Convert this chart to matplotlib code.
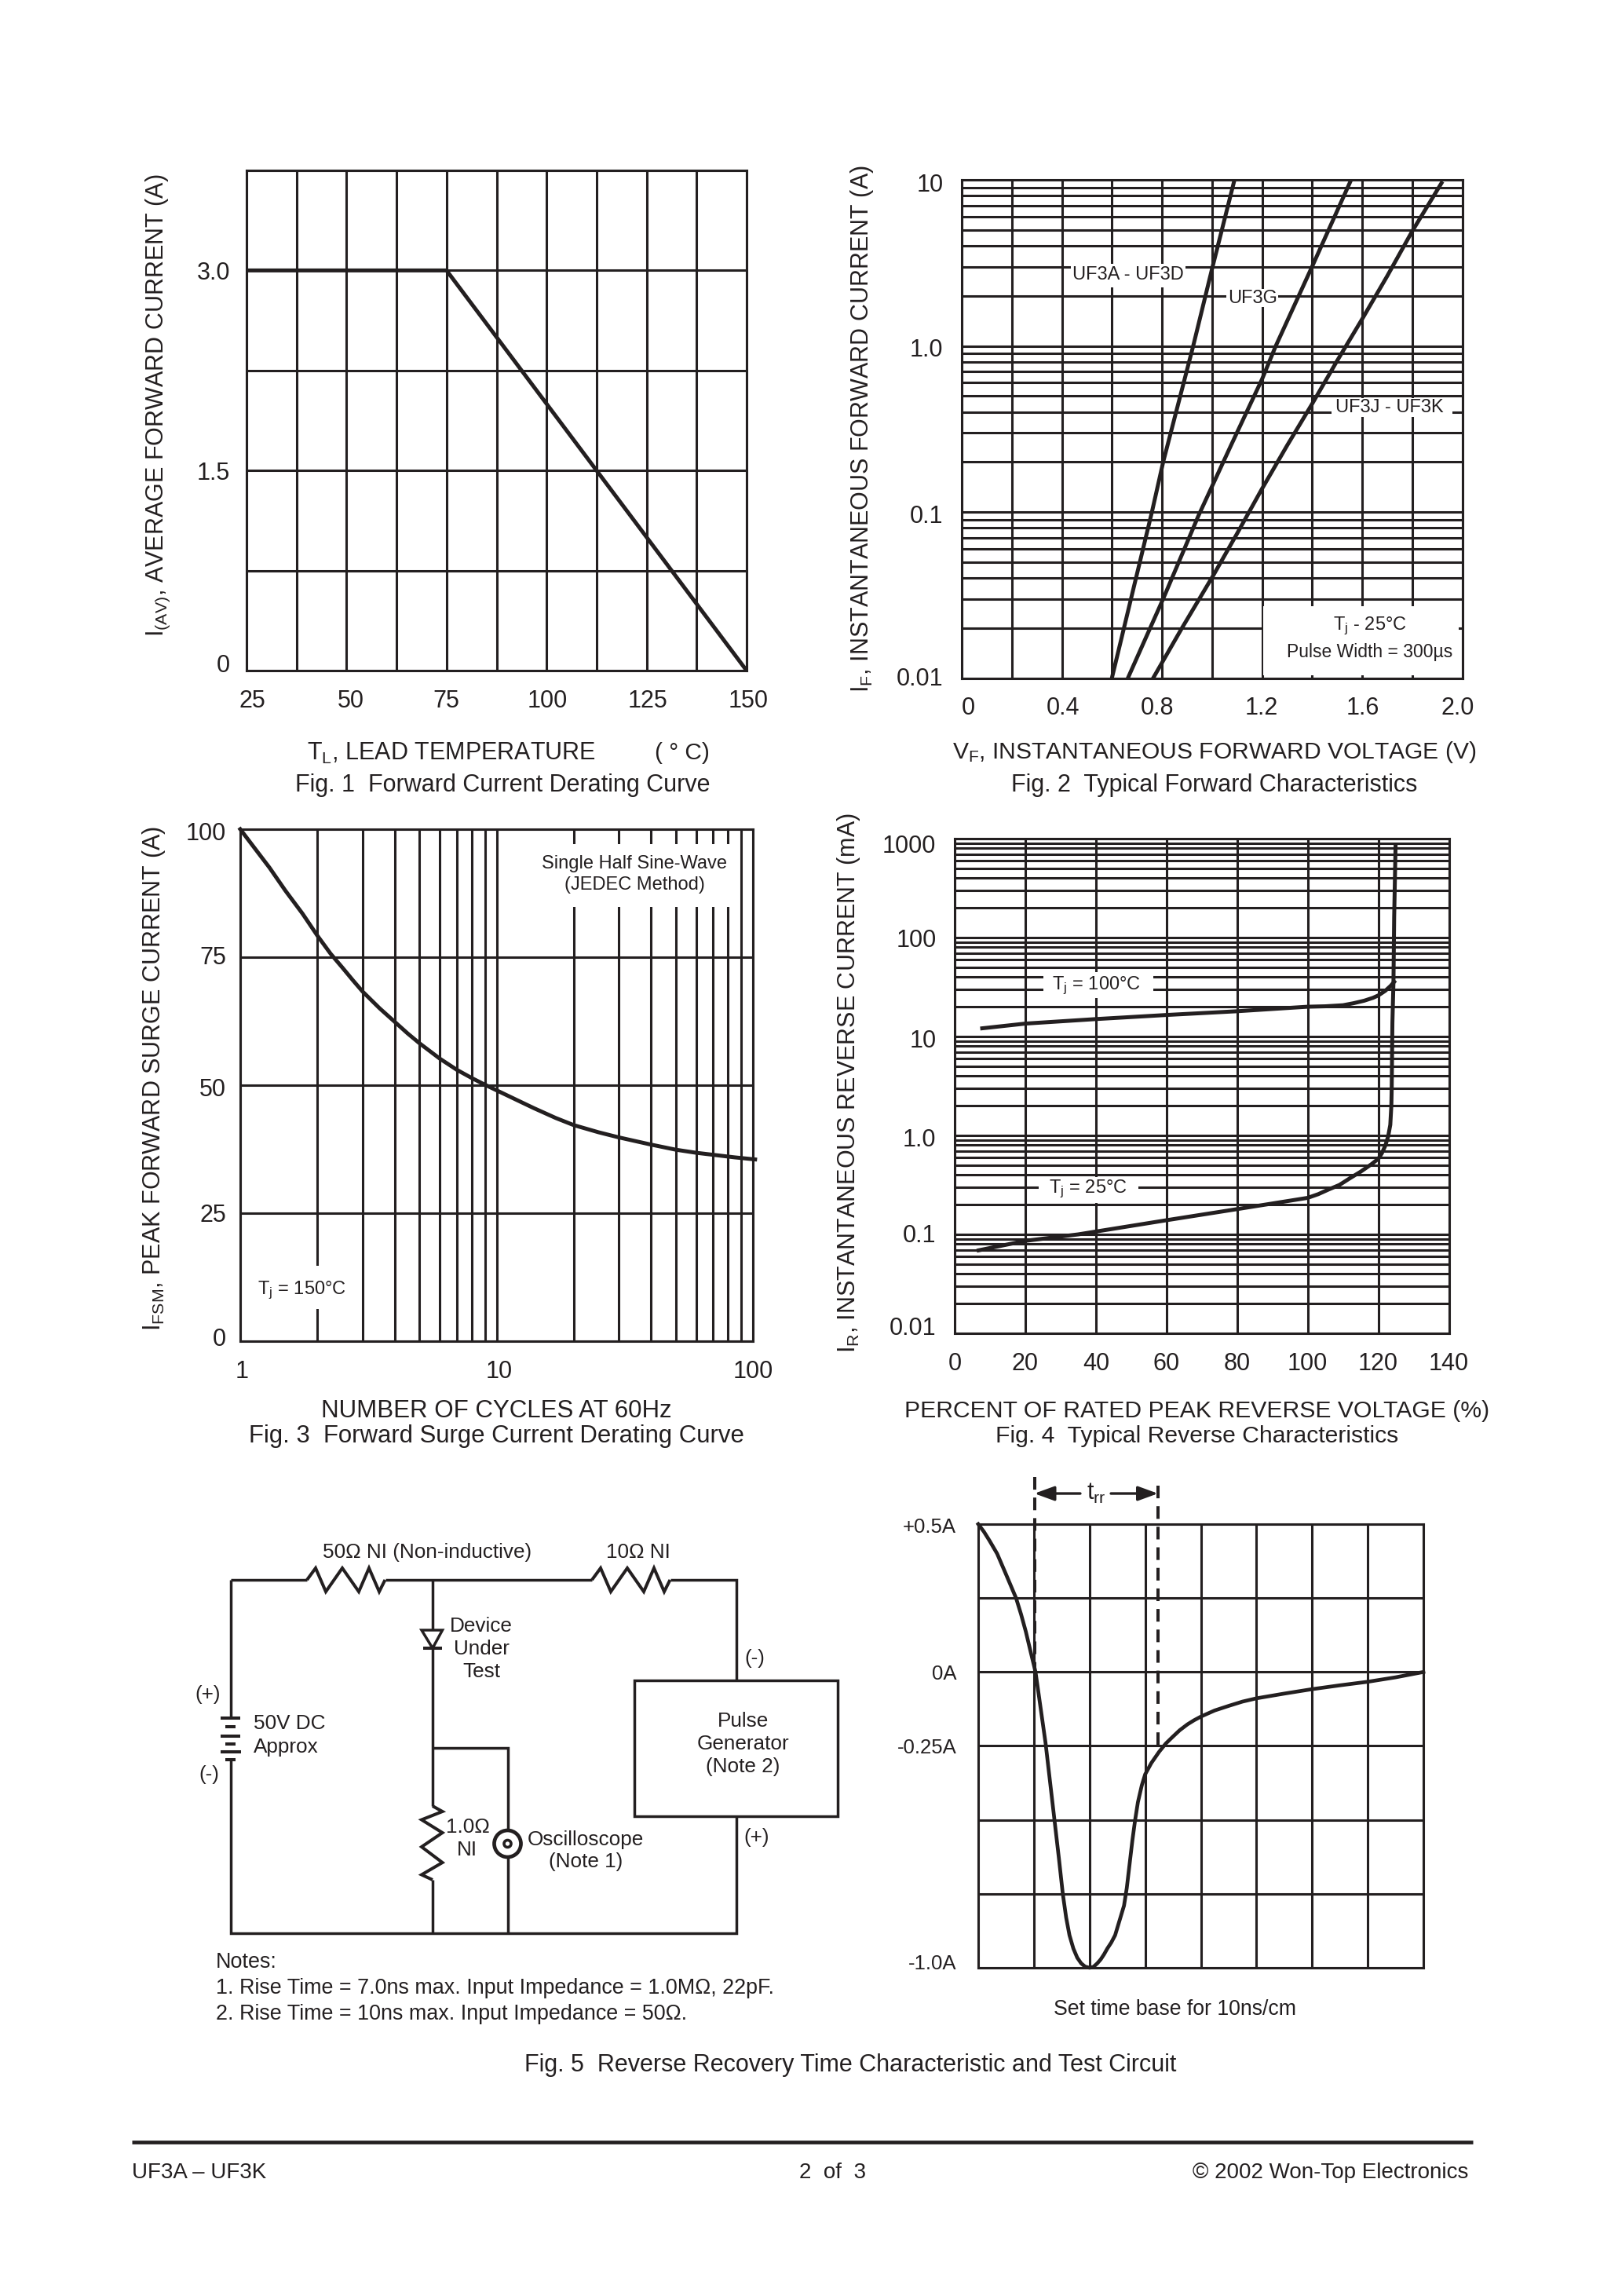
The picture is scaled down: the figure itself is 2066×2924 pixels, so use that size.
import matplotlib
matplotlib.use("Agg")
import matplotlib.pyplot as plt
from matplotlib.patches import Rectangle, Circle, Polygon
from matplotlib.ticker import NullFormatter, LogLocator, FixedLocator
from matplotlib.transforms import Affine2D

# FONTS AND COLOURS
plt.rcParams['font.family'] = ['Liberation Sans', 'DejaVu Sans']
plt.rcParams['mathtext.fontset'] = 'custom'
plt.rcParams['mathtext.rm'] = 'Liberation Sans'
plt.rcParams['mathtext.default'] = 'regular'
INK = '#231f20'
GRID_W = 2.2
CURVE_W = 3.6
FS = 22
FS_SMALL = 17
W, H = 2066, 2924

# FIG 1 DATA
temp_ticks = [25, 50, 75, 100, 125, 150]
temp_minor = [37.5, 62.5, 87.5, 112.5, 137.5]
amp_ticks = [0, 1.5, 3.0]
amp_labels = ['0', '1.5', '3.0']
amp_minor = [0.75, 2.25, 3.75]
derate_t = [25, 75, 150]
derate_i = [3.0, 3.0, 0]

# FIG 2 DATA
vf_ticks = [0, 0.4, 0.8, 1.2, 1.6, 2.0]
vf_labels = ['0', '0.4', '0.8', '1.2', '1.6', '2.0']
vf_minor = [0.2, 0.6, 1.0, 1.4, 1.8]
if_ticks = [0.01, 0.1, 1, 10]
if_labels = ['0.01', '0.1', '1.0', '10']
uf3a_v = [0.60, 0.76, 0.805, 0.925, 1.00, 1.087]
uf3a_i = [0.01, 0.1, 0.2, 1.0, 2.9, 9.6]
uf3g_v = [0.664, 0.805, 0.946, 1.075, 1.20, 1.255, 1.40, 1.556]
uf3g_i = [0.01, 0.03, 0.095, 0.25, 0.63, 1.0, 3.0, 10]
uf3j_v = [0.765, 0.88, 1.006, 1.10, 1.20, 1.30, 1.40, 1.50, 1.60, 1.70, 1.80, 1.917]
uf3j_i = [0.01, 0.02, 0.0417, 0.074, 0.138, 0.251, 0.447, 0.813, 1.45, 2.63, 4.9, 9.55]

# FIG 3 DATA
cycle_ticks = [1, 10, 100]
cycle_labels = ['1', '10', '100']
surge_ticks = [0, 25, 50, 75, 100]
cycles = [1, 1.15, 1.3, 1.5, 1.75, 2, 2.25, 2.5, 2.75, 3, 3.5, 4, 4.5, 5, 6, 7, 8, 9, 10, 12, 14, 17, 20,
          25, 30, 40, 50, 60, 70, 85, 102]
surge = [100, 96, 92.5, 88, 83.5, 79.2, 75.7, 73, 70.5, 68.3, 65, 62.4, 60.1, 58.2, 55.2, 53, 51.4, 50.1, 49,
         47.1, 45.5, 43.6, 42.2, 40.8, 39.8, 38.4, 37.4, 36.8, 36.4, 35.9, 35.5]

# FIG 4 DATA
pct_ticks = [0, 20, 40, 60, 80, 100, 120, 140]
ir_ticks = [0.01, 0.1, 1, 10, 100, 1000]
ir_labels = ['0.01', '0.1', '1.0', '10', '100', '1000']
hot_pct = [7.8, 20, 40, 60, 80, 100, 105, 110, 113, 116, 118.5, 120, 122, 123.5, 124.5]
hot_ir = [12.1, 13.5, 15, 16.5, 18, 20, 20.2, 20.7, 21.7, 23, 24.6, 26, 29, 32.5, 35.7]
cold_pct = [6.8, 20, 35, 60, 80, 100, 103, 106, 109, 112, 115, 118, 120, 121, 122, 122.8, 123.4, 123.7, 123.8,
            124, 124.3, 124.5, 124.9]
cold_ir = [0.069, 0.086, 0.1, 0.139, 0.18, 0.234, 0.255, 0.285, 0.316, 0.37, 0.43, 0.51, 0.58, 0.66, 0.79, 0.98,
           1.28, 2.0, 2.97, 13.8, 35.7, 161, 860]

# FIG 5 DATA
div_ticks = [1, 2, 3, 4, 5, 6, 7, 8]
rec_ticks = [-1.0, -0.25, 0, 0.5]
rec_labels = ['-1.0A', '-0.25A', '0A', '+0.5A']
rec_minor = [-0.75, -0.5, 0.25]
rec_t = [0, 0.1, 0.2, 0.34, 0.5, 0.68, 0.77, 0.855, 0.94, 1.03, 1.12, 1.21, 1.29, 1.37, 1.45, 1.52, 1.58, 1.64,
         1.71, 1.78, 1.85, 1.92, 2.0, 2.07, 2.14, 2.2, 2.26, 2.32, 2.39, 2.46, 2.54, 2.62, 2.67, 2.72, 2.77, 2.82,
         2.87, 2.94, 3.0, 3.11, 3.25, 3.37, 3.49, 3.62, 3.76, 3.88, 4.01, 4.25, 4.51, 4.75, 5, 5.5, 6, 6.5, 7,
         7.5, 8]
rec_i = [0.5, 0.475, 0.445, 0.40, 0.33, 0.25, 0.195, 0.137, 0.07, 0.0, -0.12, -0.24, -0.37, -0.5, -0.63, -0.75,
         -0.83, -0.89, -0.935, -0.966, -0.985, -0.996, -1.0, -0.997, -0.985, -0.972, -0.955, -0.935, -0.915, -0.89,
         -0.84, -0.79, -0.73, -0.65, -0.57, -0.5, -0.44, -0.383, -0.346, -0.308, -0.27, -0.242, -0.22, -0.197,
         -0.177, -0.163, -0.15, -0.13, -0.114, -0.1, -0.089, -0.073, -0.058, -0.045, -0.033, -0.018, 0.0]

fig = plt.figure(figsize=(W / 100, H / 100), dpi=100, facecolor='white')

# OVERLAY IN PAGE PIXELS FOR CAPTIONS AND THE CIRCUIT
page = fig.add_axes([0, 0, 1, 1], zorder=5)
page.set_xlim(0, W)
page.set_ylim(H, 0)
page.axis('off')
page.patch.set_alpha(0)


def make_axes(left, right, top, bottom):
    ax = fig.add_axes([left / W, 1 - bottom / H, (right - left) / W, (bottom - top) / H])
    ax.set_axisbelow(True)
    for s in ax.spines.values():
        s.set_linewidth(GRID_W)
        s.set_color(INK)
    ax.grid(True, which='both', color=INK, linewidth=GRID_W)
    ax.tick_params(which='both', length=0, labelsize=FS, labelcolor=INK)
    return ax


def mask(ax, x0, y0, x1, y1):
    # WHITE BOX BEHIND A LABEL, GRID IS KNOCKED OUT HERE
    ax.add_patch(Rectangle((x0, y0), x1 - x0, y1 - y0, facecolor='white', edgecolor='none',
                           transform=page.transData, zorder=1.5))


def nudge(tick_labels, dx, dy):
    # TICK LABELS IN THE ORIGINAL ARE NOT QUITE ON THEIR GRID LINES (PIXELS, Y UP)
    for lab, a, b in zip(tick_labels, dx, dy):
        lab.set_transform(lab.get_transform() + Affine2D().translate(a, b))


def labels(ax, xtext, xpos, ytext, ypos, xsize=FS, ysize=FS):
    ax.set_xlabel(xtext, fontsize=xsize, color=INK)
    ax.xaxis.set_label_coords(xpos[0], xpos[1], transform=page.transData)
    ax.xaxis.label.set_va('center')
    ax.set_ylabel(ytext, fontsize=ysize, color=INK)
    ax.yaxis.set_label_coords(ypos[0], ypos[1], transform=page.transData)
    ax.yaxis.label.set_va('center')


def note(x, y, s, size=FS_SMALL, ha='center'):
    page.text(x, y + 2, s, fontsize=size, color=INK, ha=ha, va='center')


def wire(xs, ys, lw=2.5):
    page.plot(xs, ys, color=INK, linewidth=lw, solid_joinstyle='miter', solid_capstyle='butt', clip_on=False)


# FIG 1
ax1 = make_axes(314, 951, 217, 854)
ax1.plot(derate_t, derate_i, color=INK, linewidth=CURVE_W, zorder=3)
ax1.set_xlim(25, 150)
ax1.set_ylim(0, 3.75)
ax1.set_xticks(temp_ticks)
ax1.set_xticks(temp_minor, minor=True)
ax1.set_yticks(amp_ticks, labels=amp_labels)
ax1.set_yticks(amp_minor, minor=True)
ax1.tick_params(axis='x', which='major', pad=17)
ax1.tick_params(axis='y', which='major', pad=15)
nudge(ax1.get_xticklabels(), [7, 5, 0, 1, 1, 2], [0] * 6)
nudge(ax1.get_yticklabels(), [0, 0, 0], [9, 0, 0])
ax1.set_ylabel('I$_{(AV)}$, AVERAGE FORWARD CURRENT (A)', fontsize=FS, color=INK)
ax1.yaxis.set_label_coords(201.5, 516, transform=page.transData)
ax1.yaxis.label.set_va('center')
note(391, 957, 'T$_{L}$, LEAD TEMPERATURE', FS, 'left')
note(834, 957, '( ° C)', FS - 0.5, 'left')
note(640.5, 998, 'Fig. 1  Forward Current Derating Curve', FS)

# FIG 2
ax2 = make_axes(1225, 1862.5, 229, 863.5)
ax2.set_yscale('log')
ax2.plot(uf3a_v, uf3a_i, color=INK, linewidth=CURVE_W, zorder=3)
ax2.plot(uf3g_v, uf3g_i, color=INK, linewidth=CURVE_W, zorder=3)
ax2.plot(uf3j_v, uf3j_i, color=INK, linewidth=CURVE_W, zorder=3)
ax2.set_xlim(0, 2.0)
ax2.set_ylim(0.01, 10)
ax2.set_xticks(vf_ticks, labels=vf_labels)
ax2.set_xticks(vf_minor, minor=True)
ax2.set_yticks(if_ticks, labels=if_labels)
ax2.yaxis.set_minor_locator(LogLocator(base=10, subs=range(2, 10), numticks=20))
ax2.yaxis.set_minor_formatter(NullFormatter())
ax2.tick_params(axis='both', which='major', pad=17)
nudge(ax2.get_xticklabels(), [8, 1, -6, -1, 1, -6], [0] * 6)
nudge(ax2.get_yticklabels(), [0, 0, 0, 0], [2, -2, -2, -4])
mask(ax2, 1608.5, 772, 1858, 860)
mask(ax2, 1364, 336, 1510, 366)
mask(ax2, 1562, 368, 1628, 391)
mask(ax2, 1696, 507, 1850, 531)
labels(ax2, 'V$_{F}$, INSTANTANEOUS FORWARD VOLTAGE (V)', (1547, 958),
       'I$_{F}$, INSTANTANEOUS FORWARD CURRENT (A)', (1098, 546), xsize=21.6)
note(1437, 348, 'UF3A - UF3D')
note(1596, 378, 'UF3G')
note(1770, 517, 'UF3J - UF3K')
note(1744.6, 795, 'T$_{j}$ - 25°C')
note(1744.6, 828, 'Pulse Width = 300µs', FS_SMALL - 0.5)
note(1546.6, 998, 'Fig. 2  Typical Forward Characteristics', FS)

# FIG 3
ax3 = make_axes(306, 959, 1056, 1708)
ax3.set_xscale('log')
ax3.plot(cycles, surge, color=INK, linewidth=CURVE_W, zorder=3, clip_on=False)
ax3.set_xlim(1, 100)
ax3.set_ylim(0, 100)
ax3.set_xticks(cycle_ticks, labels=cycle_labels)
ax3.xaxis.set_minor_locator(LogLocator(base=10, subs=range(2, 10), numticks=20))
ax3.xaxis.set_minor_formatter(NullFormatter())
ax3.set_yticks(surge_ticks)
ax3.tick_params(axis='x', which='major', pad=17)
ax3.tick_params(axis='y', which='major', pad=13)
nudge(ax3.get_xticklabels(), [2, 3, 0], [0, 0, 0])
nudge(ax3.get_yticklabels(), [0, 0, 0, 0, 0], [6, 0, -2, 2, -2])
mask(ax3, 684, 1075, 930.5, 1155)
mask(ax3, 323, 1612, 448, 1667)
labels(ax3, 'NUMBER OF CYCLES AT 60Hz', (632, 1797),
       'I$_{FSM}$, PEAK FORWARD SURGE CURRENT (A)', (196, 1374), xsize=22.5)
note(808.5, 1098, 'Single Half Sine-Wave')
note(808.5, 1125, '(JEDEC Method)')
note(384, 1641, 'T$_{j}$ = 150°C')
note(632, 1827, 'Fig. 3  Forward Surge Current Derating Curve', 22.4)

# FIG 4
ax4 = make_axes(1216, 1845.5, 1068, 1698)
ax4.set_yscale('log')
ax4.plot(hot_pct, hot_ir, color=INK, linewidth=CURVE_W, zorder=3)
ax4.plot(cold_pct, cold_ir, color=INK, linewidth=CURVE_W, zorder=3)
ax4.set_xlim(0, 140)
ax4.set_ylim(0.01, 1000)
ax4.set_xticks(pct_ticks)
ax4.set_yticks(ir_ticks, labels=ir_labels)
ax4.yaxis.set_minor_locator(LogLocator(base=10, subs=range(2, 10), numticks=20))
ax4.yaxis.set_minor_formatter(NullFormatter())
ax4.tick_params(axis='both', which='major', pad=17)
nudge(ax4.get_yticklabels(), [0] * 6, [9, 1, -3, -2, 0, -7])
mask(ax4, 1329, 1238, 1469, 1271)
mask(ax4, 1323, 1499, 1449.5, 1532)
labels(ax4, 'PERCENT OF RATED PEAK REVERSE VOLTAGE (%)', (1524.6, 1797),
       'I$_{R}$, INSTANTANEOUS REVERSE CURRENT (mA)', (1081, 1379), xsize=21.7)
note(1396, 1253, 'T$_{j}$ = 100°C')
note(1386, 1512, 'T$_{j}$ = 25°C')
note(1524.6, 1827, 'Fig. 4  Typical Reverse Characteristics', 21.7)

# FIG 5 TRACE
ax5 = make_axes(1246, 1813, 1941, 2506)
ax5.plot(rec_t, rec_i, color=INK, linewidth=CURVE_W - 0.2, zorder=3, clip_on=False)
ax5.plot([1.01, 1.01], [0.66, 0.0], color=INK, linewidth=2.9, dashes=(4, 2.5), clip_on=False, zorder=3)
ax5.plot([3.23, 3.23], [0.63, -0.27], color=INK, linewidth=2.9, dashes=(4, 2.5), clip_on=False, zorder=3)
ax5.set_xlim(0, 8)
ax5.set_ylim(-1.0, 0.5)
ax5.xaxis.set_major_locator(FixedLocator(div_ticks))
ax5.set_xticklabels([])
ax5.set_yticks(rec_ticks, labels=rec_labels)
ax5.set_yticks(rec_minor, minor=True)
ax5.tick_params(axis='y', which='major', pad=20, labelsize=FS_SMALL + 1.5)
nudge(ax5.get_yticklabels(), [0, 0, 0, 0], [7, 0, 0, -2])
for tip, tail in [(1.01, 1.834), (3.23, 2.385)]:
    ax5.annotate('', xy=(tip, 0.6035), xytext=(tail, 0.6035), annotation_clip=False,
                 arrowprops=dict(arrowstyle='-|>,head_length=1.1,head_width=0.4', color=INK,
                                 linewidth=2.4, shrinkA=0, shrinkB=0, mutation_scale=14))
note(1396, 1900, 't$_{rr}$', FS)
note(1497, 2557, 'Set time base for 10ns/cm', 19.2)
note(1083, 2628, 'Fig. 5  Reverse Recovery Time Characteristic and Test Circuit', 22)

# TEST CIRCUIT (PAGE PIXELS)
r1_x = [391, 402, 415, 436, 457, 470, 483, 490.5]
r_y = [2012, 1997, 2027, 1997, 2027, 1997, 2027, 2012]
r2_x = [x + 363 for x in r1_x]
r3_x = [551, 563.5, 537, 563.5, 537, 563.5, 537, 551]
r3_y = [2300, 2307, 2317.5, 2334, 2352, 2372, 2387.5, 2394]
wire([294, 294], [2188, 2012])
wire([294, 391], [2012, 2012])
wire(r1_x, r_y, 2.9)
wire([490.5, 754], [2012, 2012])
wire(r2_x, r_y, 2.9)
wire([853.5, 938, 938], [2012, 2012, 2140])
wire([938, 938, 294, 294], [2312.6, 2462, 2462, 2241])
wire([551, 551], [2012, 2300])
wire(r3_x, r3_y, 2.9)
wire([551, 551], [2394, 2462])
wire([551, 646.5, 646.5], [2226, 2226, 2331])
wire([646.5, 646.5], [2365, 2462])
page.add_patch(Polygon([(537, 2076), (563.5, 2076), (551, 2099)], closed=True, facecolor='white',
                       edgecolor=INK, linewidth=2.5, zorder=3))
wire([539, 563], [2099, 2099], 2.9)
page.add_patch(Circle((646.5, 2348), 17, facecolor='white', edgecolor=INK, linewidth=3.4, zorder=3))
page.add_patch(Circle((646.5, 2348), 4.5, facecolor='white', edgecolor=INK, linewidth=2.6, zorder=4))
page.add_patch(Rectangle((808, 2140), 259, 172.6, facecolor='white', edgecolor=INK, linewidth=2.5))
for py, half in [(2187.7, 12.5), (2199, 6.5), (2210.7, 12.5), (2220.7, 6.5), (2230.7, 13), (2240.7, 6.5)]:
    wire([293.5 - half, 293.5 + half], [py, py], 2.9)
FS_C = 18.8
note(544, 1975, '50Ω NI (Non-inductive)', FS_C)
note(813, 1975, '10Ω NI', FS_C)
note(613, 2069, 'Device', FS_C)
note(613, 2098, 'Under', FS_C)
note(613, 2127, 'Test', FS_C)
note(265, 2156, '(+)', FS_C)
note(266, 2258, '(-)', FS_C)
note(961, 2110, '(-)', FS_C)
note(964, 2338, '(+)', FS_C)
note(323, 2193, '50V DC', FS_C, 'left')
note(323, 2223, 'Approx', FS_C, 'left')
note(946, 2190, 'Pulse', FS_C)
note(946, 2219.5, 'Generator', FS_C)
note(946, 2248.5, '(Note 2)', FS_C)
note(596, 2325, '1.0Ω', FS_C)
note(595, 2354, 'NI', FS_C)
note(746, 2341, 'Oscilloscope', FS_C)
note(746, 2369, '(Note 1)', FS_C)
FS_N = 19.4
note(275, 2497, 'Notes:', FS_N, 'left')
note(275, 2530, '1. Rise Time = 7.0ns max. Input Impedance = 1.0MΩ, 22pF.', FS_N, 'left')
note(275, 2563, '2. Rise Time = 10ns max. Input Impedance = 50Ω.', FS_N, 'left')

# FOOTER
wire([168, 1876], [2728, 2728], 3.4)
note(168, 2765, 'UF3A – UF3K', FS - 2, 'left')
note(1060, 2765, '2  of  3', FS - 2)
note(1870, 2765, '© 2002 Won-Top Electronics', FS - 2, 'right')

fig.savefig('out.png', dpi=100, facecolor='white')
